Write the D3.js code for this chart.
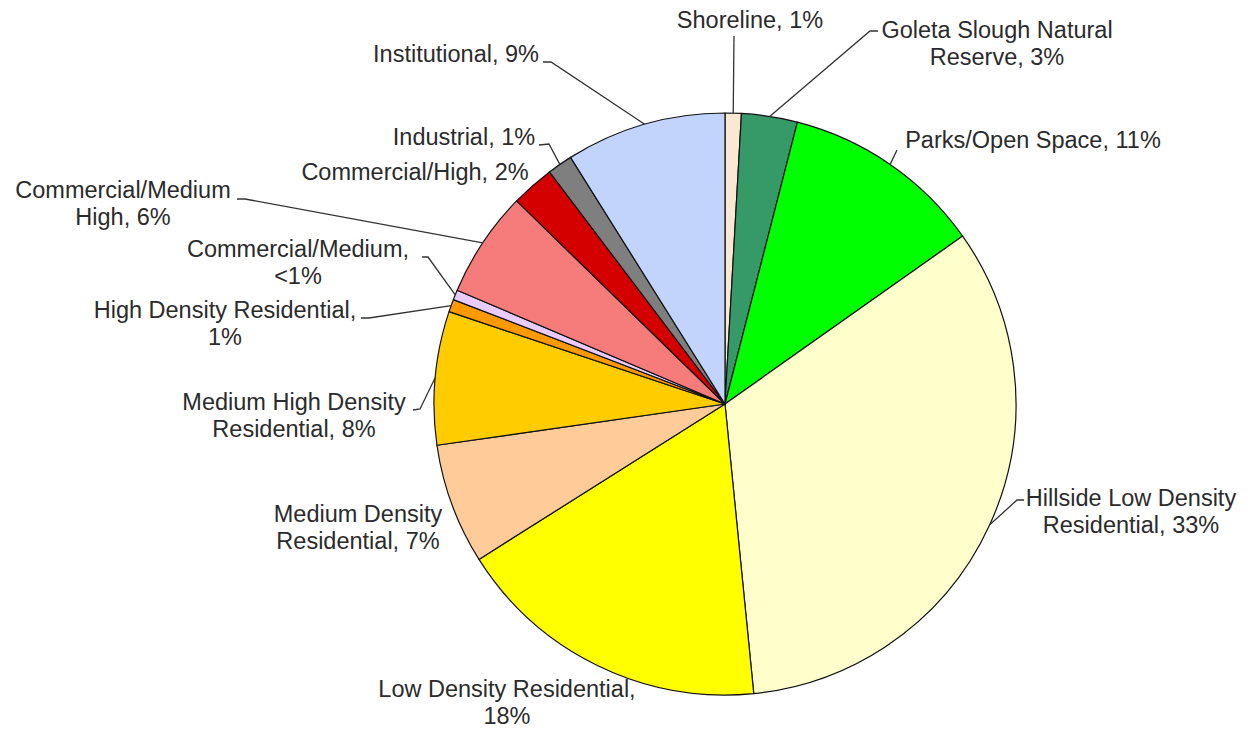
<!DOCTYPE html>
<html>
<head>
<meta charset="utf-8">
<script src="https://cdn.jsdelivr.net/npm/d3@7"></script>
<style>
  body { margin: 0; background: #fff; }
  .label { font-family: "Liberation Sans", Arial, sans-serif; font-size: 23.5px; fill: #2b2b2b; }
  .leader { fill: none; stroke: #333; stroke-width: 1.3; }
</style>
</head>
<body>
<svg id="chart" width="1248" height="730"></svg>
<script>
// land use categories, clockwise from 12 o'clock
const categories = [
  "Shoreline", "Goleta Slough Natural Reserve", "Parks/Open Space",
  "Hillside Low Density Residential", "Low Density Residential",
  "Medium Density Residential", "Medium High Density Residential",
  "High Density Residential", "Commercial/Medium", "Commercial/Medium High",
  "Commercial/High", "Industrial", "Institutional"
];
// shares (%)
const values = [0.9, 3.1, 11.2, 33.2, 17.6, 6.7, 7.4, 0.7, 0.55, 5.9, 2.4, 1.4, 8.9];
// labels as printed
const labelLines = [
  ["Shoreline, 1%"],
  ["Goleta Slough Natural", "Reserve, 3%"],
  ["Parks/Open Space, 11%"],
  ["Hillside Low Density", "Residential, 33%"],
  ["Low Density Residential,", "18%"],
  ["Medium Density", "Residential, 7%"],
  ["Medium High Density", "Residential, 8%"],
  ["High Density Residential,", "1%"],
  ["Commercial/Medium,", "<1%"],
  ["Commercial/Medium", "High, 6%"],
  ["Commercial/High, 2%"],
  ["Industrial, 1%"],
  ["Institutional, 9%"]
];
const colors = [
  "#fbe8d3", "#359a68", "#00ff00", "#ffffcc", "#ffff00", "#ffcc99", "#ffcc00",
  "#ff9900", "#e8ccff", "#f67c7c", "#d40000", "#7f7f7f", "#c2d4fc"
];

// label placement (layout): text centre x, first baseline y, leader points on the label side
const labelLayout = [
  {x: 750, y: 28, leader: [[734, 36]]},
  {x: 997, y: 38, leader: [[878, 31], [870, 31]]},
  {x: 1033, y: 148, leader: [[897, 150]]},
  {x: 1131, y: 506, leader: [[1024, 500], [1017, 500]]},
  {x: 507, y: 697, leader: null},
  {x: 358, y: 522, leader: null},
  {x: 294, y: 410, leader: [[413, 410], [420, 409]]},
  {x: 225, y: 318, leader: [[361, 318], [369, 318]]},
  {x: 298, y: 257, leader: [[422, 257], [428, 257]]},
  {x: 123, y: 198, leader: [[237, 199], [245, 199]]},
  {x: 415, y: 180, leader: null},
  {x: 464, y: 145, leader: [[539, 145], [549, 144]]},
  {x: 456, y: 62, leader: [[543, 62], [551, 62]]}
];

const cx = 725, cy = 404, radius = 291;
const lineGap = 27;

const svg = d3.select("#chart");
const g = svg.append("g").attr("transform", `translate(${cx},${cy})`);

const data = categories.map((c, i) => ({name: c, value: values[i], i: i}));
const pie = d3.pie().sort(null).value(d => d.value);
const arcs = pie(data);
const arc = d3.arc().innerRadius(0).outerRadius(radius);

g.selectAll("path.slice")
  .data(arcs)
  .join("path")
  .attr("class", "slice")
  .attr("d", arc)
  .attr("fill", d => colors[d.data.i])
  .attr("stroke", "#111")
  .attr("stroke-width", 1.2)
  .attr("stroke-linejoin", "round");

// leader lines: label side points, then the arc edge at the slice's mid angle
const line = d3.line();
arcs.forEach((a, i) => {
  const lay = labelLayout[i];
  if (!lay.leader) return;
  const mid = (a.startAngle + a.endAngle) / 2;
  const end = [cx + radius * Math.sin(mid), cy - radius * Math.cos(mid)];
  svg.append("path")
    .attr("class", "leader")
    .attr("d", line(lay.leader.concat([end])));
});

// labels
arcs.forEach((a, i) => {
  const lay = labelLayout[i];
  const t = svg.append("text")
    .attr("class", "label")
    .attr("text-anchor", "middle");
  labelLines[i].forEach((s, k) => {
    t.append("tspan")
      .attr("x", lay.x)
      .attr("y", lay.y + k * lineGap)
      .text(s);
  });
});
</script>
</body>
</html>
